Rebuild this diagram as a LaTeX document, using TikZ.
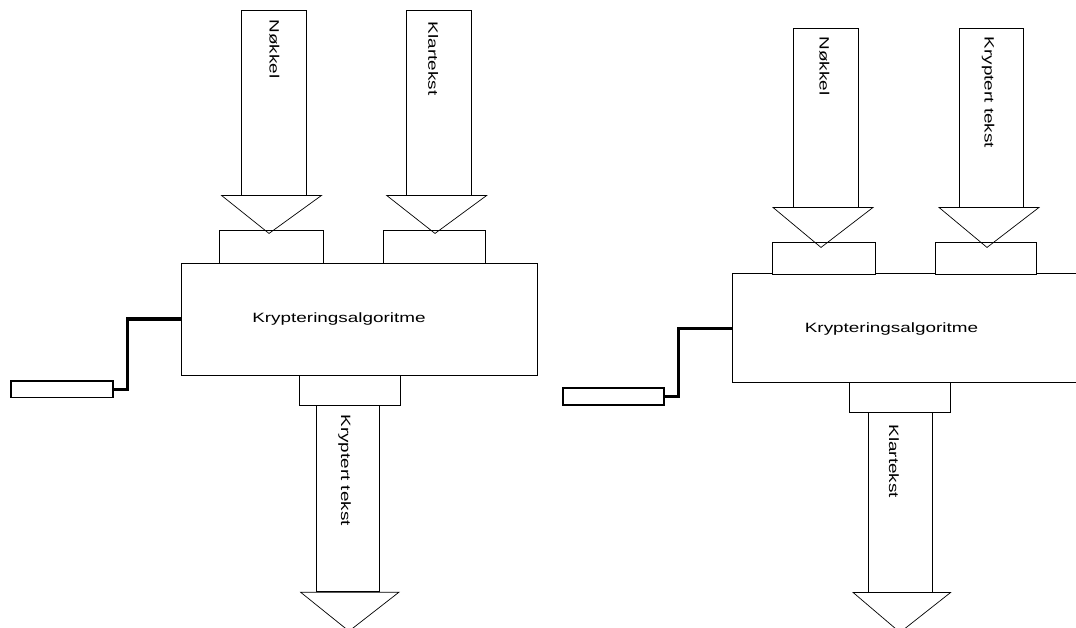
\documentclass[tikz,border=0pt]{standalone}
\usepackage{fontspec}
\setmainfont{Liberation Sans}
% wide, loosely set lettering
\newcommand\widetext[1]{\fontsize{13.5}{16}\selectfont\scalebox{1.4}[1]{#1}}
\begin{document}
\begin{tikzpicture}[x=1pt,y=-1pt,
  part/.style={draw, line width=0.9pt, inner sep=0pt, fill=white},
  shaft/.style={part, minimum width=#1},
  handle/.style={draw, line width=1.5pt, inner sep=0pt, fill=white},
  crank/.style={line width=3.6pt, line join=miter},
  headtri/.style={draw, line width=0.7pt, line join=miter},
  caption/.style={inner sep=0pt},
  vcaption/.style={inner sep=0pt, rotate=-90, anchor=west}
]
\useasboundingbox (0,0) rectangle (1076,628);
\clip (0,0) rectangle (1076,628);
\fill[white] (0,0) rectangle (1076,628);

% ---------------- encryption (left) ----------------
\node[part, minimum width=356pt, minimum height=112pt] (mainL) at (359,319) {};
\node[caption] (algL) at ([xshift=-20pt]mainL.center) {\widetext{Krypteringsalgoritme}};

\node[part, minimum width=104pt, minimum height=33pt] (inL1) at (271,246.5) {};
\node[part, minimum width=102pt, minimum height=33pt] (inL2) at (434,246.5) {};
\node[part, minimum width=101pt, minimum height=30.7pt] (outL) at (349.5,390.4) {};

\node[shaft=65pt, minimum height=185pt] (keyL) at (273.5,102.5) {};
\node[shaft=65pt, minimum height=185pt] (plainL) at (439.2,102.5) {};
\node[shaft=63pt, minimum height=186pt] (cipherL) at (347.5,498.7) {};

\node[vcaption] (keyLt) at ([xshift=1pt,yshift=-10pt]keyL.north) {\widetext{Nøkkel}};
\node[vcaption] (plainLt) at ([xshift=-6pt,yshift=-12pt]plainL.north) {\widetext{Klartekst}};
\node[vcaption] (cipherLt) at ([xshift=-3pt,yshift=-9pt]cipherL.north) {\widetext{Kryptert tekst}};

\draw[headtri] ([xshift=-52pt]keyL.south) -- ([xshift=48pt]keyL.south)
  -- ([xshift=-4.5pt,yshift=-38pt]keyL.south) -- cycle;
\draw[headtri] ([xshift=-52.5pt]plainL.south) -- ([xshift=47.5pt]plainL.south)
  -- ([xshift=-4.2pt,yshift=-38pt]plainL.south) -- cycle;
\draw[headtri] ([xshift=-47pt]cipherL.south) -- ([xshift=51.5pt]cipherL.south)
  -- ([xshift=1.5pt,yshift=-39pt]cipherL.south) -- cycle;

\node[handle, minimum width=102pt, minimum height=16.7pt] (gripL) at (62,389.3) {};
\draw[crank] (mainL.west) -- ++(-53,0) |- (gripL.east);

% ---------------- decryption (right) ----------------
\node[part, minimum width=356pt, minimum height=108.7pt] (mainR) at (910,328.3) {};
\node[caption] (algR) at ([xshift=-18.5pt,yshift=-1pt]mainR.center) {\widetext{Krypteringsalgoritme}};

\node[part, minimum width=103pt, minimum height=32pt] (inR1) at (823.5,258) {};
\node[part, minimum width=101pt, minimum height=32pt] (inR2) at (985.5,258) {};
\node[part, minimum width=101pt, minimum height=30pt] (outR) at (899.5,397.7) {};

\node[shaft=65pt, minimum height=179pt] (keyR) at (825.5,117.5) {};
\node[shaft=64pt, minimum height=179pt] (cipherR) at (991,117.5) {};
\node[shaft=64pt, minimum height=179.3pt] (plainR) at (900,502.3) {};

\node[vcaption] (keyRt) at ([xshift=-1pt,yshift=-9pt]keyR.north) {\widetext{Nøkkel}};
\node[vcaption] (cipherRt) at ([xshift=-3pt,yshift=-9pt]cipherR.north) {\widetext{Kryptert tekst}};
\node[vcaption] (plainRt) at ([xshift=-6pt,yshift=-12pt]plainR.north) {\widetext{Klartekst}};

\draw[headtri] ([xshift=-52.5pt]keyR.south) -- ([xshift=47.5pt]keyR.south)
  -- ([xshift=-4.5pt,yshift=-40pt]keyR.south) -- cycle;
\draw[headtri] ([xshift=-52pt]cipherR.south) -- ([xshift=48pt]cipherR.south)
  -- ([xshift=-4pt,yshift=-40pt]cipherR.south) -- cycle;
\draw[headtri] ([xshift=-47pt]plainR.south) -- ([xshift=50.7pt]plainR.south)
  -- ([xshift=0pt,yshift=-40pt]plainR.south) -- cycle;

\node[handle, minimum width=101pt, minimum height=17pt] (gripR) at (613.5,396.5) {};
\draw[crank] (mainR.west) -- ++(-53,0) |- (gripR.east);
\end{tikzpicture}
\end{document}
